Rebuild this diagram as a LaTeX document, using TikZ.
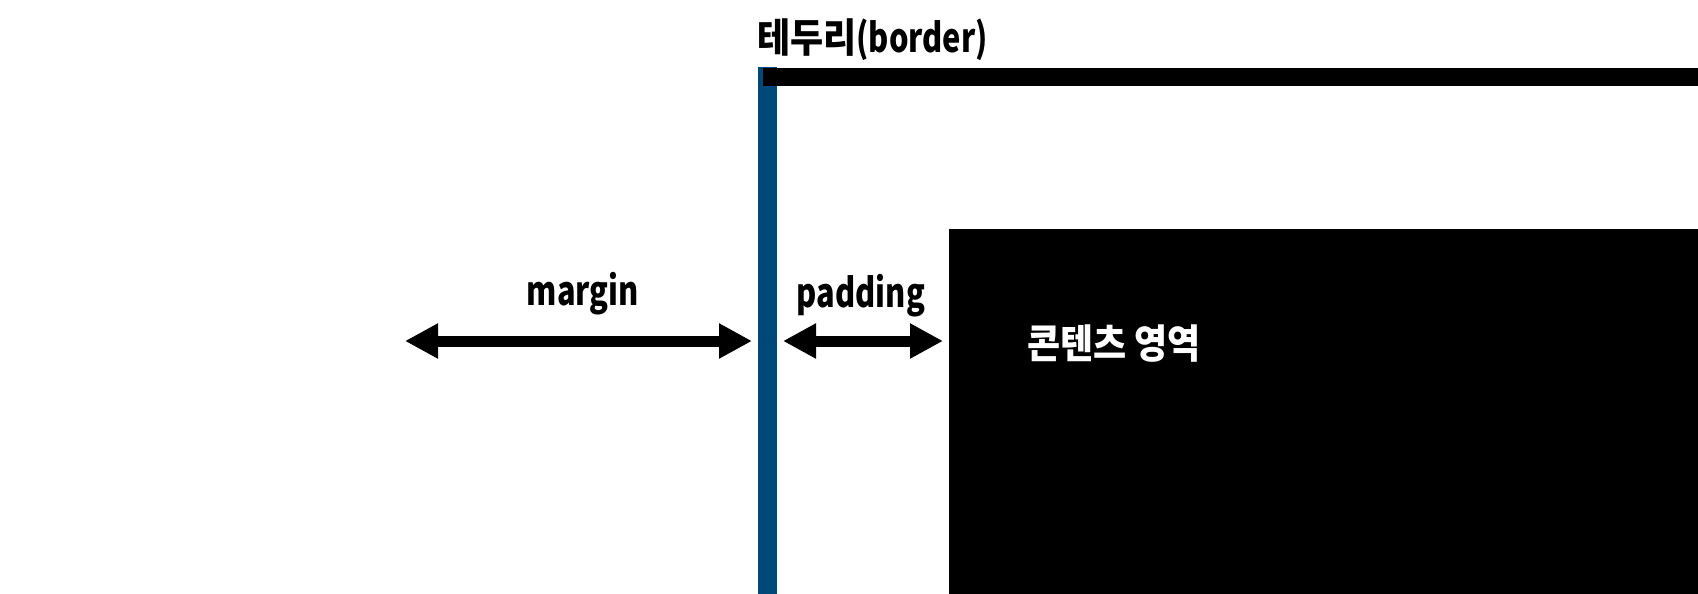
\documentclass[tikz,border=0pt]{standalone}
\usepackage{fontspec}
\setmainfont{Noto Sans CJK KR}
\newfontfamily\korfont{Noto Sans CJK KR}[FakeStretch=0.9]
\newfontfamily\latfont{Noto Sans CJK KR}[FakeStretch=0.77]
\usepackage{xcolor}
\usetikzlibrary{arrows.meta}
\definecolor{borderblue}{HTML}{004878}

\begin{document}
\begin{tikzpicture}
            [x=1pt,y=-1pt,
            lbl/.style = {inner sep=0pt,
                        font=\fontsize{40}{48}\selectfont\bfseries},
            dimarrow/.style = {line width=11pt,
                        {Triangle[length=33pt,width=33pt]}-{Triangle[length=33pt,width=33pt]}}]
            \useasboundingbox (0,0) rectangle (1698,594);
            % cajas
            \fill[borderblue] (758,67) rectangle (777,594);
            \fill[black] (763,68) rectangle (1698,86);
            \fill[black] (949,229) rectangle (1698,594);
            \node[lbl,anchor=base west] (border) at (757,53) {\korfont 테두리\latfont(border)};
            \node[lbl,text=white] (content) at (1114,344) {\korfont 콘텐츠 영역};
            % flechas
            \coordinate (mL) at (405,341);
            \coordinate (mR) at (752,341);
            \coordinate (pL) at (783,341);
            \coordinate (pR) at (943,341);
            \draw[dimarrow] (mL) -- (mR);
            \draw[dimarrow] (pL) -- (pR);

            \node[lbl,anchor=base] (margin) at (583,305) {\latfont margin};
            \node[lbl,anchor=base] (padding) at (861,307) {\latfont padding};
        \end{tikzpicture}
\end{document}
